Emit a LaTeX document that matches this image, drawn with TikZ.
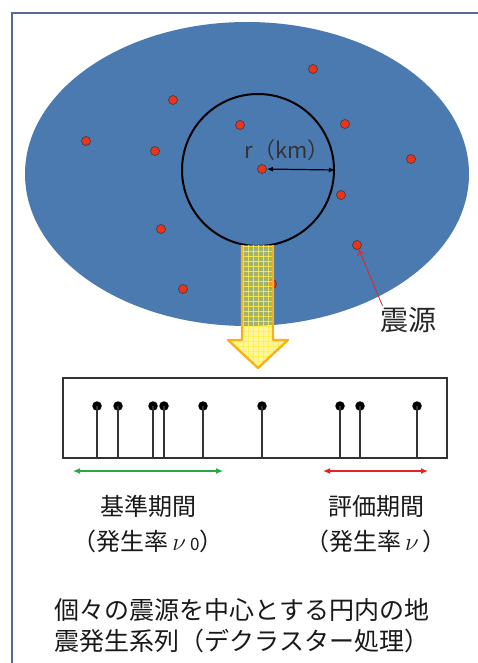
\documentclass[tikz,border=0pt]{standalone}
\usepackage{fontspec}
\setmainfont{Noto Sans CJK JP}
\usetikzlibrary{arrows.meta}

\definecolor{quakeblue}{RGB}{74,122,176}
\definecolor{framegray}{RGB}{82,108,148}
\definecolor{dotred}{RGB}{236,52,28}
\definecolor{arrowfill}{RGB}{250,235,60}
\definecolor{arrowline}{RGB}{246,178,26}
\definecolor{gridline}{RGB}{255,240,70}
\definecolor{periodgreen}{RGB}{38,168,72}
\definecolor{periodred}{RGB}{228,36,36}

\begin{document}
\begin{tikzpicture}[x=1pt,y=-1pt,
    quake/.style={circle,draw=black!75,fill=dotred,inner sep=0pt,minimum size=9pt,line width=.7pt},
    event/.style={circle,fill=black,inner sep=0pt,minimum size=9.5pt},
    stem/.style={line width=1.5pt,black!80},
    period/.style={line width=1.2pt,{Latex[length=7pt,width=6pt]}-{Latex[length=7pt,width=6pt]}},
    jtext/.style={font=\fontsize{24}{35}\selectfont,align=center,text=black!90}]
  \useasboundingbox (0,0) rectangle (477,663);

  % frame
  \draw[framegray,line width=2.5pt] (12,670) -- (12,13) -- (485,13);

  % region with epicentres
  \fill[quakeblue] (247,174) ellipse [x radius=222, y radius=152];
  \node[circle,draw=black,line width=2pt,minimum size=152pt,inner sep=0pt] (ring) at (258,170) {};

  \node[quake] (q1) at (313,69) {};
  \node[quake] (q2) at (173,100) {};
  \node[quake] (q3) at (240,125) {};
  \node[quake] (q4) at (345,124) {};
  \node[quake] (q5) at (86,141) {};
  \node[quake] (q6) at (155,151) {};
  \node[quake] (q0) at (262,169) {};
  \node[quake] (q7) at (411,159) {};
  \node[quake] (q8) at (341,195) {};
  \node[quake] (q9) at (161,229) {};
  \node[quake] (q10) at (357,245) {};
  \node[quake] (q11) at (183,289) {};
  \node[quake] (q12) at (272,284) {};

  \draw[line width=1.2pt,{Latex[length=6pt,width=5pt]}-{Latex[length=6pt,width=5pt]}] (q0) -- (ring.east);
  \node[font=\fontsize{22}{22}\selectfont,text=black!80] (rad) at (287,150) {r（km）};

  % big arrow
  \begin{scope}
    \clip (242,245) -- (273,245) -- (273,340) -- (288,340) -- (258,368) -- (228,340) -- (242,340) -- cycle;
    \fill[arrowfill,opacity=.5] (220,240) rectangle (295,372);
    \foreach \g in {223,228,...,293}
      \draw[gridline,line width=.7pt,opacity=.8] (\g,240) -- (\g,372);
    \foreach \g in {246,251,...,371}
      \draw[gridline,line width=.7pt,opacity=.8] (220,\g) -- (295,\g);
  \end{scope}
  \draw[arrowline,line width=2.4pt,line join=round] (242,245) -- (242,340) -- (228,340) -- (258,368) -- (288,340) -- (273,340) -- (273,245);

  \node[font=\fontsize{28}{28}\selectfont,text=black!85] (src) at (408,320) {震源};
  \draw[periodred,line width=.8pt,-{To[length=6pt,width=8pt]}] ([xshift=6pt,yshift=-2pt]src.north west) -- (q10);

  % time series
  \draw[line width=1.3pt,black!80] (63,378) rectangle (447,458);
  \foreach \x in {97,118,153,164,203,262,340,360,417} {
    \node[event] (e\x) at (\x,406) {};
    \coordinate (b\x) at (\x,458);
    \draw[stem] (e\x.center) -- (b\x);
  }

  \coordinate (g1) at (73,471);
  \coordinate (g2) at (223,471);
  \coordinate (r1) at (323,471);
  \coordinate (r2) at (428,471);
  \draw[period,periodgreen] (g1) -- (g2);
  \draw[period,periodred] (r1) -- (r2);

  \node[jtext] (base) at (148,524) {基準期間\\（発生率\,{\fontsize{32}{32}\selectfont$\nu$}\,{\fontsize{17}{17}\selectfont 0}）};
  \node[jtext] (eval) at (376,524) {評価期間\\（発生率\,{\fontsize{32}{32}\selectfont$\nu$}\,）};

  \node[jtext,font=\fontsize{25}{31}\selectfont] (caption) at (242,626) {個々の震源を中心とする円内の地\\震発生系列（デクラスター処理）};
\end{tikzpicture}
\end{document}
